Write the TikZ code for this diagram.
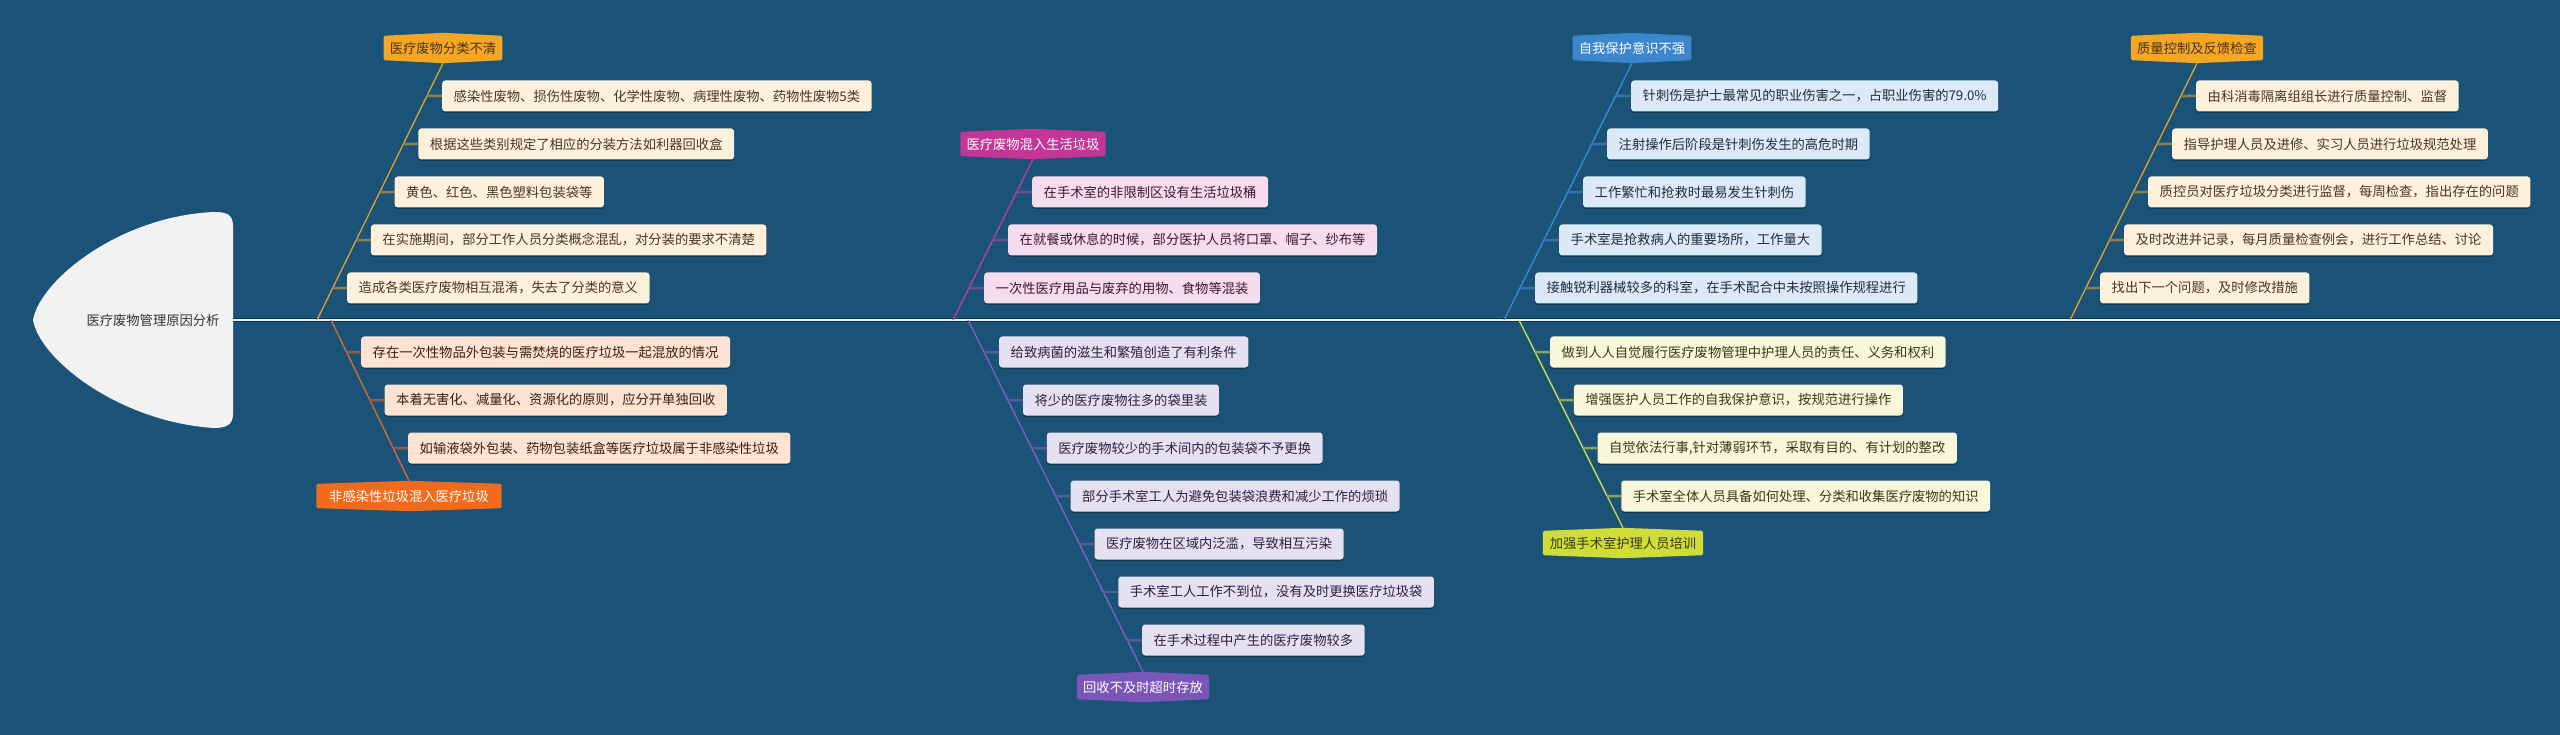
\documentclass[tikz,border=0pt]{standalone}
\usepackage{fontspec}
\setmainfont{Noto Sans CJK SC}
\usepackage{xcolor}
\usepackage{tikz}
\usetikzlibrary{shadows}
\pgfdeclarelayer{back}
\pgfsetlayers{back,main}

\definecolor{bgblue}{HTML}{1A5377}
\definecolor{headfill}{HTML}{F2F2F2}
\definecolor{headtext}{HTML}{333333}
\definecolor{spinelight}{HTML}{E6ECF0}
\definecolor{spinedark}{HTML}{0E3450}
\definecolor{causeO}{HTML}{F5A623}
\definecolor{lineO}{HTML}{E0A030}
\definecolor{boxO}{HTML}{FDF1DB}
\definecolor{textO}{HTML}{4A3520}
\definecolor{causeM}{HTML}{C33596}
\definecolor{lineM}{HTML}{B8449F}
\definecolor{boxM}{HTML}{F6DCEF}
\definecolor{textM}{HTML}{3A1A30}
\definecolor{causeB}{HTML}{3B86CC}
\definecolor{lineB}{HTML}{3F8AD6}
\definecolor{boxB}{HTML}{DCEAF7}
\definecolor{textB}{HTML}{1E2D3D}
\definecolor{causeR}{HTML}{F26A1B}
\definecolor{lineR}{HTML}{E0692C}
\definecolor{boxR}{HTML}{FDE3D2}
\definecolor{textR}{HTML}{3A2010}
\definecolor{causeP}{HTML}{7B55B8}
\definecolor{lineP}{HTML}{8062C0}
\definecolor{boxP}{HTML}{E6E1F1}
\definecolor{textP}{HTML}{2A2040}
\definecolor{causeG}{HTML}{CFDC3A}
\definecolor{lineG}{HTML}{D5DF48}
\definecolor{boxG}{HTML}{F8F7DC}
\definecolor{textG}{HTML}{3A3A10}

\begin{document}
\begin{tikzpicture}[x=1pt, y=-1pt,
        every node/.style={font=\fontsize{13.3}{16}\selectfont},
        item/.style={rounded corners=3pt, minimum height=31pt, inner xsep=11.5pt, inner ysep=0pt, anchor=west,
            drop shadow={shadow xshift=0pt, shadow yshift=-1.5pt, fill=black, opacity=0.35}},
        cause/.style={minimum height=24pt, inner xsep=6pt, inner ysep=0pt},
        bone/.style={line width=1.3pt},
        twig/.style={line width=2.5pt},
        spine/.style={draw=spinedark, double=spinelight, double distance=1.6pt, line width=0.8pt}
    ]
        \useasboundingbox (0,0) rectangle (2560,735);
        \begin{pgfonlayer}{back}
            \fill[bgblue] (0,0) rectangle (2560,735);
        \end{pgfonlayer}

        \fill[headfill] (233,226) .. controls (233,214) and (226,212) .. (214,212)
            .. controls (120,216) and (40,280) .. (33,320)
            .. controls (40,360) and (120,422) .. (214,428)
            .. controls (226,428) and (233,425) .. (233,414) -- cycle;
        \node[text=headtext] (head) at (153,320) {医疗废物管理原因分析};
        \coordinate (neck) at (233,320);
        \coordinate (tail) at (2560,320);
        \draw[spine] (neck) -- (tail);

        \node[cause, text=textO] (sort) at (443,48) {医疗废物分类不清};
        \coordinate (sortS) at (317,320);
        \draw[bone, lineO] ([yshift=-3pt]sort.south) coordinate (sortT) -- (sortS);
        \foreach \t [count=\i] in {{感染性废物、损伤性废物、化学性废物、病理性废物、药物性废物5类},
            {根据这些类别规定了相应的分装方法如利器回收盒}, {黄色、红色、黑色塑料包装袋等},
            {在实施期间，部分工作人员分类概念混乱，对分装的要求不清楚}, {造成各类医疗废物相互混淆，失去了分类的意义}} {
            \node[item, fill=boxO, text=textO] (sort\i) at ({442-23.75*(\i-1)}, {48+48*\i}) {\t};
            \draw[twig, lineO!60!bgblue] (intersection of sortT--sortS and sort\i.west--sort\i.east) -- (sort\i.west);
        }

        \node[cause, text=white] (mix) at (1033,144) {医疗废物混入生活垃圾};
        \coordinate (mixS) at (953,320);
        \draw[bone, lineM] ([yshift=-3pt]mix.south) coordinate (mixT) -- (mixS);
        \foreach \t [count=\i] in {{在手术室的非限制区设有生活垃圾桶},
            {在就餐或休息的时候，部分医护人员将口罩、帽子、纱布等}, {一次性医疗用品与废弃的用物、食物等混装}} {
            \node[item, fill=boxM, text=textM] (mix\i) at ({1032-24*(\i-1)}, {144+48*\i}) {\t};
            \draw[twig, lineM!60!bgblue] (intersection of mixT--mixS and mix\i.west--mix\i.east) -- (mix\i.west);
        }

        \node[cause, text=white] (prot) at (1632,48) {自我保护意识不强};
        \coordinate (protS) at (1504,320);
        \draw[bone, lineB] ([yshift=-3pt]prot.south) coordinate (protT) -- (protS);
        \foreach \t [count=\i] in {{针刺伤是护士最常见的职业伤害之一，占职业伤害的79.0\%},
            {注射操作后阶段是针刺伤发生的高危时期}, {工作繁忙和抢救时最易发生针刺伤},
            {手术室是抢救病人的重要场所，工作量大}, {接触锐利器械较多的科室，在手术配合中未按照操作规程进行}} {
            \node[item, fill=boxB, text=textB] (prot\i) at ({1631-24*(\i-1)}, {48+48*\i}) {\t};
            \draw[twig, lineB!60!bgblue] (intersection of protT--protS and prot\i.west--prot\i.east) -- (prot\i.west);
        }

        \node[cause, text=textO] (qual) at (2197,48) {质量控制及反馈检查};
        \coordinate (qualS) at (2070,320);
        \draw[bone, lineO] ([yshift=-3pt]qual.south) coordinate (qualT) -- (qualS);
        \foreach \t [count=\i] in {{由科消毒隔离组组长进行质量控制、监督},
            {指导护理人员及进修、实习人员进行垃圾规范处理}, {质控员对医疗垃圾分类进行监督，每周检查，指出存在的问题},
            {及时改进并记录，每月质量检查例会，进行工作总结、讨论}, {找出下一个问题，及时修改措施}} {
            \node[item, fill=boxO, text=textO] (qual\i) at ({2196-24*(\i-1)}, {48+48*\i}) {\t};
            \draw[twig, lineO!60!bgblue] (intersection of qualT--qualS and qual\i.west--qual\i.east) -- (qual\i.west);
        }

        \node[cause, text=white, minimum width=185pt] (nonin) at (409,496) {非感染性垃圾混入医疗垃圾};
        \coordinate (noninS) at (331,320);
        \draw[bone, lineR] (noninS) -- ([yshift=3pt]nonin.north) coordinate (noninT);
        \foreach \t [count=\i] in {{存在一次性物品外包装与需焚烧的医疗垃圾一起混放的情况},
            {本着无害化、减量化、资源化的原则，应分开单独回收}, {如输液袋外包装、药物包装纸盒等医疗垃圾属于非感染性垃圾}} {
            \node[item, fill=boxR, text=textR] (nonin\i) at ({361+23.5*(\i-1)}, {304+48*\i}) {\t};
            \draw[twig, lineR!60!bgblue] (intersection of noninS--noninT and nonin\i.west--nonin\i.east) -- (nonin\i.west);
        }

        \node[cause, text=white] (late) at (1143,687) {回收不及时超时存放};
        \coordinate (lateS) at (968,320);
        \draw[bone, lineP] (lateS) -- ([yshift=3pt]late.north) coordinate (lateT);
        \foreach \t [count=\i] in {{给致病菌的滋生和繁殖创造了有利条件}, {将少的医疗废物往多的袋里装},
            {医疗废物较少的手术间内的包装袋不予更换}, {部分手术室工人为避免包装袋浪费和减少工作的烦琐},
            {医疗废物在区域内泛滥，导致相互污染}, {手术室工人工作不到位，没有及时更换医疗垃圾袋},
            {在手术过程中产生的医疗废物较多}} {
            \node[item, fill=boxP, text=textP] (late\i) at ({999+23.83*(\i-1)}, {304+48*\i}) {\t};
            \draw[twig, lineP!60!bgblue] (intersection of lateS--lateT and late\i.west--late\i.east) -- (late\i.west);
        }

        \node[cause, text=textG, minimum width=160pt] (train) at (1623,543) {加强手术室护理人员培训};
        \coordinate (trainS) at (1519,320);
        \draw[bone, lineG] (trainS) -- ([yshift=3pt]train.north) coordinate (trainT);
        \foreach \t [count=\i] in {{做到人人自觉履行医疗废物管理中护理人员的责任、义务和权利},
            {增强医护人员工作的自我保护意识，按规范进行操作}, {自觉依法行事,针对薄弱环节，采取有目的、有计划的整改},
            {手术室全体人员具备如何处理、分类和收集医疗废物的知识}} {
            \node[item, fill=boxG, text=textG] (train\i) at ({1550+23.7*(\i-1)}, {304+48*\i}) {\t};
            \draw[twig, lineG!60!bgblue] (intersection of trainS--trainT and train\i.west--train\i.east) -- (train\i.west);
        }

        \begin{pgfonlayer}{back}
            \foreach \n/\c in {sort/causeO, mix/causeM, prot/causeB, qual/causeO, nonin/causeR, late/causeP, train/causeG}
                \fill[\c, rounded corners=1.5pt] (\n.north west) -- ([yshift=3pt]\n.north) -- (\n.north east)
                    -- (\n.south east) -- ([yshift=-3pt]\n.south) -- (\n.south west) -- cycle;
        \end{pgfonlayer}
    \end{tikzpicture}
\end{document}
